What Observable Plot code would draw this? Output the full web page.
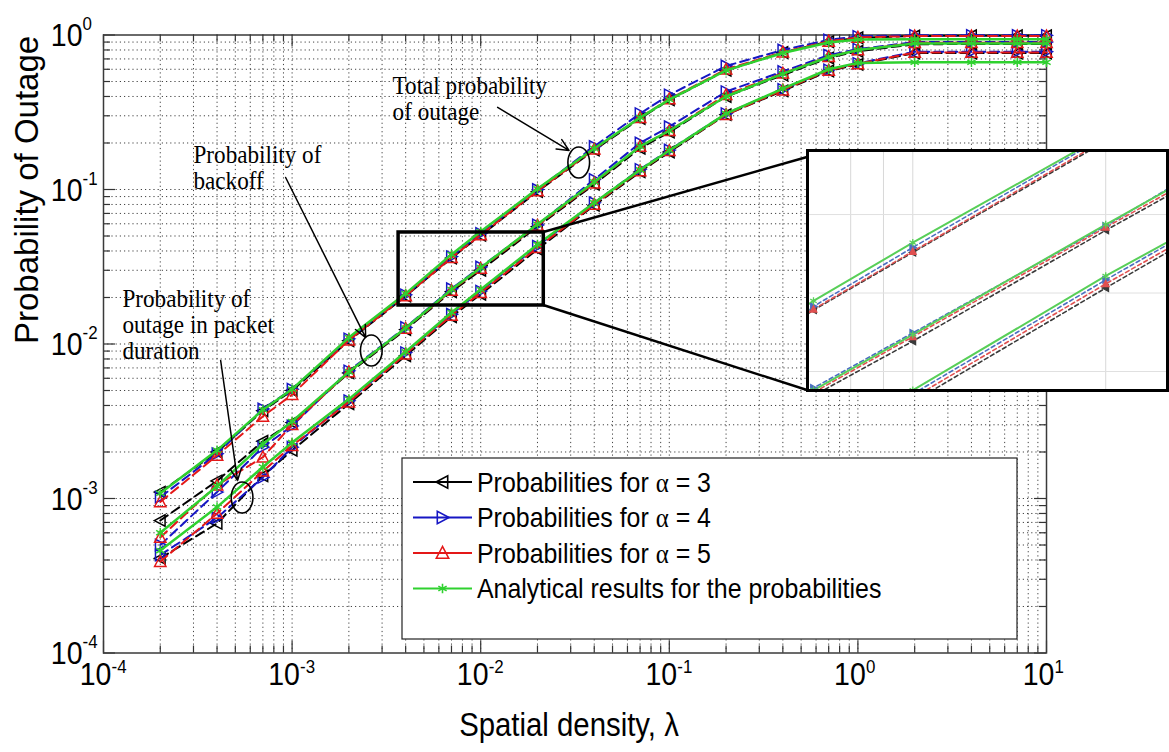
<!DOCTYPE html>
<html>
<head>
<meta charset="utf-8">
<script src="https://cdn.jsdelivr.net/npm/d3@7"></script>
<script src="https://cdn.jsdelivr.net/npm/@observablehq/plot@0.6"></script>
<style>
  body { margin: 0; background: #fff; }
  #chart { position: relative; width: 1169px; height: 752px; overflow: hidden; background: #fff; }
  #inset { position: absolute; left: 806px; top: 149px; width: 357px; height: 237px;
           border: 3px solid #000; background: #fff; overflow: hidden; }
  #inset svg { filter: blur(0.5px); }
</style>
</head>
<body>
<div id="chart"><div id="inset"></div></div>
<script>
// Spatial density values (x) shared by every curve
const density = [2e-4, 4e-4, 7e-4, 1e-3, 2e-3, 4e-3, 7e-3, 1e-2, 2e-2, 4e-2, 7e-2, 0.1, 0.2, 0.4, 0.7, 1, 2, 4, 7, 10];

// Total probability of outage
const totalA3 = [1.10e-3, 2.00e-3, 3.70e-3, 5.00e-3, 1.05e-2, 2.04e-2, 3.60e-2, 5.05e-2, 0.097, 0.180, 0.288, 0.380, 0.590, 0.770, 0.905, 0.960, 0.985, 0.990, 0.990, 0.990];
const totalA4 = [1.02e-3, 1.95e-3, 3.80e-3, 5.10e-3, 1.08e-2, 2.08e-2, 3.68e-2, 5.20e-2, 0.100, 0.190, 0.310, 0.410, 0.630, 0.800, 0.930, 0.980, 0.995, 0.995, 0.995, 0.995];
const totalA5 = [0.95e-3, 1.90e-3, 3.40e-3, 4.70e-3, 1.06e-2, 2.05e-2, 3.62e-2, 5.08e-2, 0.098, 0.182, 0.292, 0.385, 0.600, 0.775, 0.910, 0.965, 0.985, 0.985, 0.985, 0.985];
const totalAn = [1.08e-3, 2.05e-3, 3.75e-3, 5.10e-3, 1.10e-2, 2.12e-2, 3.80e-2, 5.35e-2, 0.101, 0.184, 0.292, 0.382, 0.590, 0.765, 0.895, 0.935, 0.940, 0.940, 0.940, 0.940];

// Probability of backoff
const backoffA3 = [7.2e-4, 1.30e-3, 2.35e-3, 3.10e-3, 6.5e-3, 1.24e-2, 2.18e-2, 3.00e-2, 0.0575, 0.108, 0.185, 0.235, 0.400, 0.550, 0.710, 0.785, 0.870, 0.875, 0.875, 0.875];
const backoffA4 = [5.0e-4, 1.10e-3, 2.15e-3, 2.95e-3, 6.7e-3, 1.28e-2, 2.28e-2, 3.15e-2, 0.0590, 0.116, 0.200, 0.255, 0.430, 0.580, 0.740, 0.810, 0.900, 0.900, 0.900, 0.900];
const backoffA5 = [5.6e-4, 1.22e-3, 1.85e-3, 3.00e-3, 6.6e-3, 1.26e-2, 2.22e-2, 3.08e-2, 0.0585, 0.110, 0.190, 0.240, 0.410, 0.565, 0.725, 0.800, 0.890, 0.890, 0.890, 0.890];
const backoffAn = [6.0e-4, 1.20e-3, 2.25e-3, 3.15e-3, 6.6e-3, 1.27e-2, 2.25e-2, 3.12e-2, 0.0595, 0.112, 0.190, 0.240, 0.400, 0.560, 0.720, 0.800, 0.880, 0.880, 0.880, 0.880];

// Probability of outage in packet duration
const packetA3 = [4.1e-4, 6.9e-4, 1.40e-3, 2.05e-3, 4.1e-3, 8.4e-3, 1.50e-2, 2.10e-2, 0.0410, 0.079, 0.130, 0.175, 0.305, 0.435, 0.585, 0.645, 0.765, 0.765, 0.765, 0.765];
const packetA4 = [4.3e-4, 7.5e-4, 1.37e-3, 2.15e-3, 4.3e-3, 8.8e-3, 1.56e-2, 2.20e-2, 0.0430, 0.082, 0.135, 0.180, 0.310, 0.445, 0.595, 0.655, 0.780, 0.780, 0.780, 0.780];
const packetA5 = [3.9e-4, 8.0e-4, 1.50e-3, 2.20e-3, 4.2e-3, 8.6e-3, 1.53e-2, 2.15e-2, 0.0420, 0.080, 0.132, 0.178, 0.305, 0.440, 0.590, 0.650, 0.770, 0.770, 0.770, 0.770];
const packetAn = [4.6e-4, 8.8e-4, 1.60e-3, 2.30e-3, 4.4e-3, 8.9e-3, 1.60e-2, 2.25e-2, 0.0440, 0.082, 0.134, 0.179, 0.310, 0.450, 0.600, 0.660, 0.667, 0.667, 0.667, 0.667];

// Axis ticks and labels
const xMajor = [1e-4, 1e-3, 1e-2, 1e-1, 1, 10];
const xExp = ["-4", "-3", "-2", "-1", "0", "1"];
const yMajor = [1e-4, 1e-3, 1e-2, 1e-1, 1];
const yExp = ["-4", "-3", "-2", "-1", "0"];
const xTitle = "Spatial density, λ";
const yTitle = "Probability of Outage";

// Legend entries
const legendLabels = [
  ["Probabilities for ", "α", " = 3"],
  ["Probabilities for ", "α", " = 4"],
  ["Probabilities for ", "α", " = 5"],
  ["Analytical results for the probabilities", "", ""]
];

// Annotations (data coordinates)
const notes = [
  {x: 3.41e-3, y: 0.2797, text: "Total probability\nof outage"},
  {x: 3.0e-4, y: 0.1015, text: "Probability of\nbackoff"},
  {x: 1.26e-4, y: 7.94e-3, text: "Probability of\noutage in packet\nduration"}
];
const pointers = [
  {x1: 0.0123, y1: 0.34, x2: 0.0294, y2: 0.179},
  {x1: 9.24e-4, y1: 0.1196, x2: 2.455e-3, y2: 0.01101},
  {x1: 4.18e-4, y1: 7.82e-3, x2: 5.14e-4, y2: 1.306e-3}
];
const rings = [
  {x: 0.0331, y: 0.1496},
  {x: 2.63e-3, y: 9.07e-3},
  {x: 5.43e-4, y: 1.015e-3}
];
const zoomBox = {x1: 3.67e-3, x2: 0.0216, y1: 0.0527, y2: 0.01775};

// ---- symbols ----
const triLeft = {draw(ctx, size) { const r = Math.sqrt(size / Math.PI); ctx.moveTo(-r, 0); ctx.lineTo(r * 0.8, -r * 0.95); ctx.lineTo(r * 0.8, r * 0.95); ctx.closePath(); }};
const triRight = {draw(ctx, size) { const r = Math.sqrt(size / Math.PI); ctx.moveTo(r, 0); ctx.lineTo(-r * 0.8, -r * 0.95); ctx.lineTo(-r * 0.8, r * 0.95); ctx.closePath(); }};
const triUp = {draw(ctx, size) { const r = Math.sqrt(size / Math.PI); ctx.moveTo(0, -r); ctx.lineTo(-r * 0.95, r * 0.8); ctx.lineTo(r * 0.95, r * 0.8); ctx.closePath(); }};
const ellipse = {draw(ctx, size) {
  const ry = Math.sqrt(size / Math.PI), rx = ry * 0.7, k = 0.5523;
  ctx.moveTo(rx, 0);
  ctx.bezierCurveTo(rx, ry * k, rx * k, ry, 0, ry);
  ctx.bezierCurveTo(-rx * k, ry, -rx, ry * k, -rx, 0);
  ctx.bezierCurveTo(-rx, -ry * k, -rx * k, -ry, 0, -ry);
  ctx.bezierCurveTo(rx * k, -ry, rx, -ry * k, rx, 0);
  ctx.closePath();
}};

const styles = [
  {key: "a3", stroke: "#000000", dash: "9,5", symbol: triLeft, width: 2},
  {key: "a4", stroke: "#1616c4", dash: "9,5", symbol: triRight, width: 2},
  {key: "a5", stroke: "#e41818", dash: "9,5", symbol: triUp, width: 2},
  {key: "an", stroke: "#2fd12f", dash: null, symbol: "asterisk", width: 2.5}
];

const curves = [
  {group: "total", a3: totalA3, a4: totalA4, a5: totalA5, an: totalAn},
  {group: "backoff", a3: backoffA3, a4: backoffA4, a5: backoffA5, an: backoffAn},
  {group: "packet", a3: packetA3, a4: packetA4, a5: packetA5, an: packetAn}
];
const rows = [];
for (const c of curves) for (const s of styles) c[s.key].forEach((v, i) => rows.push({group: c.group, key: s.key, x: density[i], y: v}));

// grid/tick positions on the log axes
const xAll = [], yAll = [];
for (let e = -4; e <= 0; e++) for (let k = 1; k <= 9; k++) xAll.push(k * 10 ** e);
for (let e = -4; e <= -1; e++) for (let k = 1; k <= 9; k++) yAll.push(k * 10 ** e);
const xMinor = xAll.filter(v => !xMajor.includes(v));
const yMinor = yAll.filter(v => !yMajor.includes(v));
const xGrid = xAll.filter(v => v > 1e-4);
const yGrid = yAll.filter(v => v > 1e-4);

const W = 1169, H = 752;
const M = {top: 34.5, right: 123, bottom: 99.5, left: 103};
const FH = H - M.top - M.bottom, FW = W - M.left - M.right;
const sans = "Liberation Sans, Arial, Helvetica, sans-serif";
const serif = "Liberation Serif, Times New Roman, serif";
const tickColor = "#333";

const marks = [
  Plot.ruleX(xGrid, {x: d => d, stroke: "#222", strokeWidth: 1, strokeDasharray: "1.2,3", strokeOpacity: 0.85}),
  Plot.ruleY(yGrid, {y: d => d, stroke: "#222", strokeWidth: 1, strokeDasharray: "1.2,3", strokeOpacity: 0.85}),
  // inward ticks on all four sides
  Plot.tickX(xMajor, {x: d => d, insetTop: FH - 12, stroke: tickColor, strokeWidth: 1.2}),
  Plot.tickX(xMinor, {x: d => d, insetTop: FH - 7, stroke: tickColor, strokeWidth: 1.2}),
  Plot.tickX(xMajor, {x: d => d, insetBottom: FH - 12, stroke: tickColor, strokeWidth: 1.2}),
  Plot.tickX(xMinor, {x: d => d, insetBottom: FH - 7, stroke: tickColor, strokeWidth: 1.2}),
  Plot.tickY(yMajor, {y: d => d, insetRight: FW - 12, stroke: tickColor, strokeWidth: 1.2}),
  Plot.tickY(yMinor, {y: d => d, insetRight: FW - 7, stroke: tickColor, strokeWidth: 1.2}),
  Plot.tickY(yMajor, {y: d => d, insetLeft: FW - 12, stroke: tickColor, strokeWidth: 1.2}),
  Plot.tickY(yMinor, {y: d => d, insetLeft: FW - 7, stroke: tickColor, strokeWidth: 1.2}),
  Plot.frame({stroke: "#3a3a3a", strokeWidth: 1.5})
];

for (const s of styles) {
  const data = rows.filter(d => d.key === s.key);
  marks.push(Plot.line(data, {x: "x", y: "y", z: "group", stroke: s.stroke, strokeWidth: s.width, strokeDasharray: s.dash}));
  marks.push(Plot.dot(data, {x: "x", y: "y", symbol: s.symbol, r: s.key === "an" ? 4.5 : 6, stroke: s.stroke, fill: "none", strokeWidth: 1.5}));
}

marks.push(
  Plot.rect([zoomBox], {x1: "x1", x2: "x2", y1: "y1", y2: "y2", fill: "none", stroke: "#000", strokeWidth: 3.5}),
  Plot.dot(rings, {x: "x", y: "y", symbol: ellipse, r: 15.5, stroke: "#000", fill: "none", strokeWidth: 1.6}),
  Plot.arrow(pointers, {x1: "x1", y1: "y1", x2: "x2", y2: "y2", stroke: "#000", strokeWidth: 1.5, headLength: 13, headAngle: 50}),
  Plot.text(notes, {x: "x", y: "y", text: "text", textAnchor: "start", lineAnchor: "bottom", lineHeight: 1.0, fontFamily: serif, fontSize: 26, fill: "#000"}),
  // tick labels: base and exponent
  Plot.text(xMajor, {x: d => d, frameAnchor: "bottom", text: () => "10", dx: -8, dy: 32, fontSize: 32, fontFamily: sans, fill: "#000"}),
  Plot.text(xMajor, {x: d => d, frameAnchor: "bottom", text: (d, i) => xExp[i], dx: 8, dy: 20, fontSize: 19, textAnchor: "start", fontFamily: sans, fill: "#000"}),
  Plot.text(yMajor, {y: d => d, frameAnchor: "left", text: () => "10", dx: -21, dy: 1, fontSize: 32, textAnchor: "end", fontFamily: sans, fill: "#000"}),
  Plot.text(yMajor, {y: d => d, frameAnchor: "left", text: (d, i) => yExp[i], dx: -21, dy: -11, fontSize: 19, textAnchor: "start", fontFamily: sans, fill: "#000"}),
  Plot.text([xTitle], {frameAnchor: "bottom", text: d => d, dx: -6, dy: 83, fontSize: 33, fontFamily: sans, fill: "#000"}),
  Plot.text([yTitle], {frameAnchor: "left", text: d => d, rotate: -90, dx: -76, fontSize: 33, fontFamily: sans, fill: "#000"})
);

const plot = Plot.plot({
  width: W, height: H,
  marginTop: M.top, marginRight: M.right, marginBottom: M.bottom, marginLeft: M.left,
  x: {type: "log", domain: [1e-4, 10], axis: null},
  y: {type: "log", domain: [1e-4, 1], axis: null},
  style: {fontFamily: sans, background: "white", overflow: "visible"},
  marks
});
const chart = document.getElementById("chart");
chart.insertBefore(plot, chart.firstChild);

const svg = d3.select(plot);
const sx = plot.scale("x"), sy = plot.scale("y");

// connectors from the zoom box to the magnified panel
const insetEdge = {x: 807, yTop: 157, yBottom: 390};
svg.append("line").attr("x1", sx.apply(zoomBox.x2)).attr("y1", sy.apply(zoomBox.y1))
  .attr("x2", insetEdge.x).attr("y2", insetEdge.yTop).attr("stroke", "#000").attr("stroke-width", 2.4);
svg.append("line").attr("x1", sx.apply(zoomBox.x2)).attr("y1", sy.apply(zoomBox.y2))
  .attr("x2", insetEdge.x).attr("y2", insetEdge.yBottom).attr("stroke", "#000").attr("stroke-width", 2.4);

// legend
const lg = svg.append("g").attr("text-anchor", "start");
lg.append("rect").attr("x", 402).attr("y", 458).attr("width", 615).attr("height", 181)
  .attr("fill", "#fff").attr("stroke", "#222").attr("stroke-width", 1.2);
styles.forEach((s, i) => {
  const yy = 482 + i * 35.5;
  lg.append("line").attr("x1", 413).attr("x2", 472).attr("y1", yy).attr("y2", yy)
    .attr("stroke", s.stroke).attr("stroke-width", 2.2);
  const sym = typeof s.symbol === "string" ? d3.symbolAsterisk : s.symbol;
  const r = s.key === "an" ? 4.5 : 6.5;
  lg.append("path").attr("d", d3.symbol(sym, Math.PI * r * r)()).attr("transform", `translate(442.5,${yy})`)
    .attr("fill", "none").attr("stroke", s.stroke).attr("stroke-width", 1.6);
  const t = lg.append("text").attr("transform", `translate(477,${yy})`).attr("dy", "0.35em")
    .attr("text-anchor", "start")
    .attr("font-family", sans).attr("font-size", 28).attr("fill", "#000");
  const [a, b, c] = legendLabels[i];
  t.append("tspan").text(a);
  if (b) t.append("tspan").attr("font-family", serif).attr("font-size", 28).text(b);
  if (c) t.append("tspan").text(c);
});

// the text face is slightly condensed horizontally
svg.selectAll("text").each(function () {
  const tr = this.getAttribute("transform");
  if (tr && !tr.includes("rotate")) this.setAttribute("transform", tr + " scale(0.89,1)");
});

// ---- magnified panel ----
const insetMarks = [
  Plot.ruleX([8e-3, 9e-3, 1e-2, 2e-2], {x: d => d, stroke: "#d8d8d8", strokeWidth: 1}),
  Plot.ruleY([10 ** -1.2, 10 ** -1.4, 10 ** -1.6], {y: d => d, stroke: "#e0e0e0", strokeWidth: 1})
];
const insetColors = {a3: "#3a3a3a", a4: "#4a6fc0", a5: "#e05050", an: "#58cf58"};
for (const s of styles) {
  const data = rows.filter(d => d.key === s.key);
  insetMarks.push(Plot.line(data, {x: "x", y: "y", z: "group", stroke: insetColors[s.key], strokeWidth: s.key === "an" ? 2 : 1.6, strokeDasharray: s.key === "an" ? null : "4,3", clip: true}));
}
for (const s of styles) {
  const data = rows.filter(d => d.key === s.key);
  insetMarks.push(Plot.dot(data, {x: "x", y: "y", symbol: s.symbol, r: 3.5, stroke: insetColors[s.key], fill: s.key === "an" ? "none" : insetColors[s.key], strokeWidth: 1.3, clip: true}));
}
const insetPlot = Plot.plot({
  width: 357, height: 237,
  marginTop: 0, marginRight: 0, marginBottom: 0, marginLeft: 0,
  x: {type: "log", domain: [6.90e-3, 0.02488], axis: null},
  y: {type: "log", domain: [0.0226, 0.0908], axis: null},
  style: {background: "white"},
  marks: insetMarks
});
document.getElementById("inset").append(insetPlot);
</script>
</body>
</html>
